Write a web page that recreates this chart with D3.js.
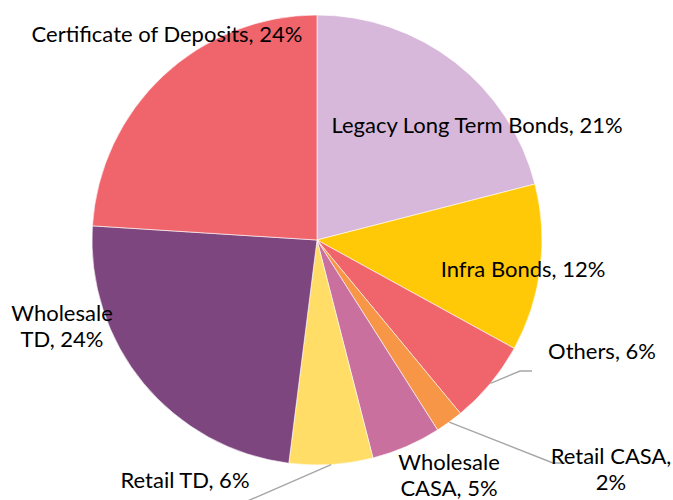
<!DOCTYPE html>
<html><head><meta charset="utf-8">
<script src="https://cdn.jsdelivr.net/npm/d3@7"></script>
<style>body{margin:0;background:#fff}svg{display:block}</style>
</head><body>
<svg id="c" width="673" height="500"></svg>
<script>
const categories = ["Legacy Long Term Bonds","Infra Bonds","Others","Retail CASA","Wholesale CASA","Retail TD","Wholesale TD","Certificate of Deposits"];
const values = [21,12,6,2,5,6,24,24];
const colors = ["#D7B8DA","#FFC907","#F0656B","#F79646","#C9709F","#FFDD66","#7D467E","#F0656B"];
// label layout: text lines, centre x, first-line baseline y
const labelLines = [
  ["Legacy Long Term Bonds, 21%"],
  ["Infra Bonds, 12%"],
  ["Others, 6%"],
  ["Retail CASA,","2%"],
  ["Wholesale","CASA, 5%"],
  ["Retail TD, 6%"],
  ["Wholesale","TD, 24%"],
  ["Certificate of Deposits, 24%"]
];
const labelPos = [[477,133],[523,277],[602,359],[611,464],[449,470],[185,488],[62,321],[167,42]];
const leaders = { // slice index -> leader end points
  2: [[520,371],[532,371]],
  3: [[553,463],[565,463]],
  5: [[236,506]]
};

const svg = d3.select("#c");
const cx = 317, cy = 240, r = 225;
const pie = d3.pie().sort(null).value(d=>d)(values);
const arc = d3.arc().innerRadius(0).outerRadius(r);
const g = svg.append("g").attr("transform",`translate(${cx},${cy})`);
g.selectAll("path").data(pie).join("path")
  .attr("d",arc).attr("fill",(d,i)=>colors[i])
  .attr("stroke","#fff").attr("stroke-width",0.6);

// leader lines
const edge = d3.arc().innerRadius(r).outerRadius(r);
Object.entries(leaders).forEach(([k,pts])=>{
  const i=+k; const c = edge.centroid(pie[i]);
  const p0=[cx+c[0],cy+c[1]];
  svg.append("polyline").attr("points",[p0,...pts].map(p=>p.join(",")).join(" "))
    .attr("fill","none").attr("stroke","#A6A6A6").attr("stroke-width",1.4);
});

const fs = 22;
labelLines.forEach((lines,i)=>{
  const t = svg.append("text").attr("text-anchor","middle")
    .attr("font-family","Lato, 'Open Sans', sans-serif").attr("font-size",fs).attr("fill","#000");
  lines.forEach((s,j)=>{
    t.append("tspan").attr("x",labelPos[i][0]).attr("y",labelPos[i][1]+j*26).text(s);
  });
});
</script>
</body></html>
